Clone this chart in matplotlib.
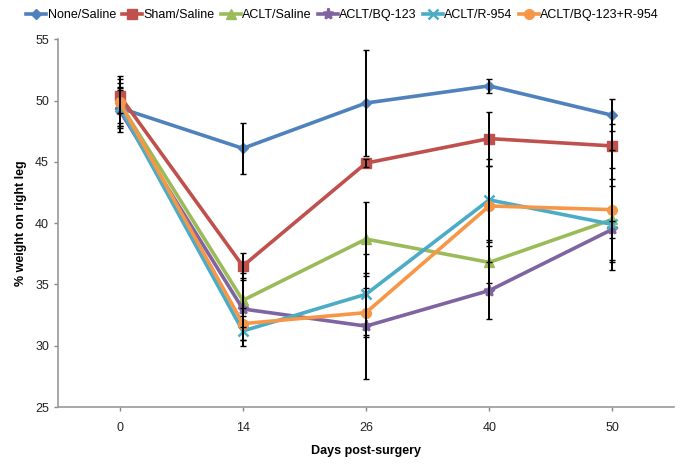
import matplotlib
matplotlib.use("Agg")
import matplotlib.pyplot as plt
import numpy as np

plt.rcParams['font.family'] = ['Liberation Sans', 'DejaVu Sans']

days = ["0", "14", "26", "40", "50"]

series_names = ["None/Saline", "Sham/Saline", "ACLT/Saline", "ACLT/BQ-123", "ACLT/R-954", "ACLT/BQ-123+R-954"]

none_saline = [49.4, 46.1, 49.8, 51.2, 48.8]
sham_saline = [50.4, 36.5, 44.9, 46.9, 46.3]
aclt_saline = [49.8, 33.7, 38.7, 36.8, 40.3]
aclt_bq123 = [49.2, 33.0, 31.6, 34.5, 39.5]
aclt_r954 = [49.5, 31.2, 34.2, 41.9, 39.9]
aclt_bq_r = [49.9, 31.8, 32.7, 41.4, 41.1]

none_saline_err = [1.5, 2.05, 4.3, 0.6, 1.3]
sham_saline_err = [1.4, 1.1, 0.3, 2.2, 1.8]
aclt_saline_err = [1.6, 2.2, 3.0, 1.7, 3.3]
aclt_bq123_err = [1.8, 2.5, 4.3, 2.3, 0.7]
aclt_r954_err = [1.6, 1.2, 3.3, 3.3, 3.1]
aclt_bq_r_err = [2.1, 1.3, 2.0, 3.3, 4.9]

values = [none_saline, sham_saline, aclt_saline, aclt_bq123, aclt_r954, aclt_bq_r]
errors = [none_saline_err, sham_saline_err, aclt_saline_err, aclt_bq123_err, aclt_r954_err, aclt_bq_r_err]
colors = ["#4F81BD", "#C0504D", "#9BBB59", "#8064A2", "#4BACC6", "#F79646"]
markers = ["D", "s", "^", "*", "x", "o"]
msizes = [5.5, 7, 7, 8, 7, 7]

fig = plt.figure(figsize=(6.85, 4.66), dpi=100)
ax = fig.add_axes([58/685, 1-407/466, (674-58)/685, (407-39.3)/466])

x = np.arange(len(days))
handles = []
for vals, errs, c, m, ms, name in zip(values, errors, colors, markers, msizes, series_names):
    ax.errorbar(x, vals, yerr=errs, fmt='none', ecolor='black', elinewidth=1.4,
                capsize=2.5, capthick=1.0, zorder=3)
    h, = ax.plot(x, vals, color=c, lw=2.6, marker=m, markersize=ms,
                 markeredgewidth=1.8 if m == 'x' or m == '*' else 1, markeredgecolor=c,
                 markerfacecolor=c, label=name, zorder=2)
    handles.append(h)

ax.set_xlim(-0.5, 4.5)
ax.set_ylim(25, 55)
ax.set_xticks(x)
ax.set_xticklabels(days)
ax.set_yticks(np.arange(25, 56, 5))
ax.tick_params(axis='both', labelsize=9, colors='#888888', labelcolor='#222222', length=3, width=1)
ax.tick_params(axis='x', pad=8)
for s in ['top', 'right']:
    ax.spines[s].set_visible(False)
for s in ['left', 'bottom']:
    ax.spines[s].set_color('#999999')
    ax.spines[s].set_linewidth(1.2)

ax.set_xlabel("Days post-surgery", fontsize=9, fontweight='bold', labelpad=8)
ax.set_ylabel("% weight on right leg", fontsize=9, fontweight='bold', labelpad=6)

fig.legend(handles=handles, labels=series_names, loc='center', bbox_to_anchor=(0.5, 1-15/466),
           ncol=6, frameon=False, fontsize=9, handlelength=1.6, handletextpad=0.1,
           columnspacing=0.5, borderaxespad=0)

fig.savefig("out.png", dpi=100)
